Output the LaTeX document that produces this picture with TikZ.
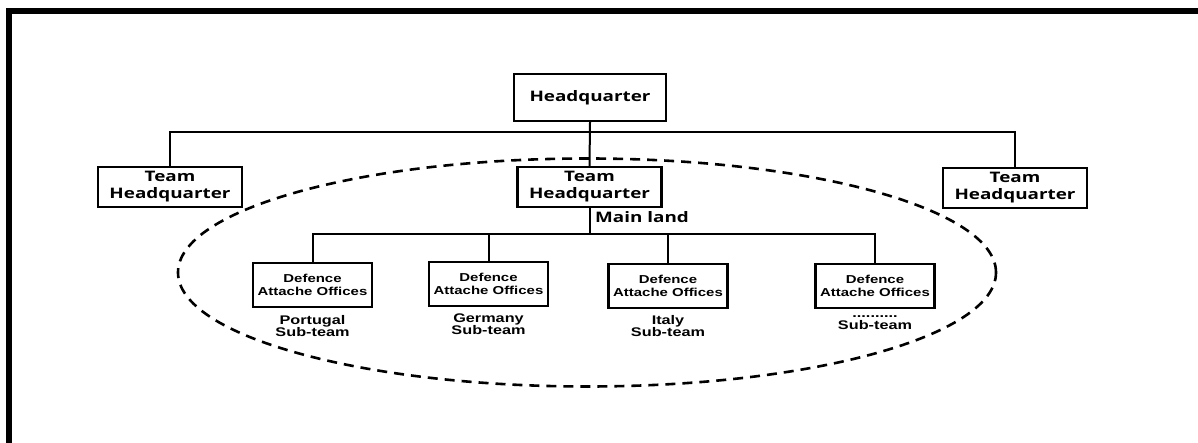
\documentclass[tikz,border=0pt]{standalone}
\usepackage{fontspec}
\newfontfamily\hqfont{Open Sans}[FakeStretch=1.3]
\newfontfamily\subfont{Liberation Sans}[FakeStretch=1.3]
\usetikzlibrary{shapes.geometric}
\begin{document}
\begin{tikzpicture}[x=1pt,y=-1pt,
  hqtext/.style={font=\hqfont\bfseries\fontsize{14.5}{17}\selectfont, align=center},
  subtext/.style={font=\subfont\bfseries\fontsize{11.5}{13}\selectfont, align=center},
  hqbox/.style={draw, line width=2.4pt, hqtext, inner sep=0pt, minimum width=152pt, minimum height=47pt},
  teambox/.style={draw, line width=2.4pt, hqtext, inner sep=0pt, minimum width=144pt, minimum height=40pt},
  officebox/.style={draw, line width=2.4pt, subtext, inner sep=0pt, minimum width=119pt, minimum height=44pt},
  sublabel/.style={subtext, inner sep=0pt, font=\subfont\bfseries\fontsize{12.5}{12.5}\selectfont},
  link/.style={line width=2pt},
  group/.style={draw, ellipse, line width=2.6pt, dash pattern=on 10pt off 7pt, inner sep=0pt}
]
\useasboundingbox (0,0) rectangle (1198,443);
% outer frame (top and left edges)
\draw[line width=6pt, line join=miter] (9,443) -- (9,11) -- (1198,11);

% grouping ellipse round the main-land team
\node[group, minimum width=818pt, minimum height=228pt] (mainland) at (587,272.5) {};

% top level
\node[hqbox] (hq) at (590,97.5) {Headquarter};

% team headquarters
\node[teambox] (thL) at (170,187) {Team\\Headquarter};
\node[teambox] (thC) at (589.5,187) {Team\\Headquarter};
\node[teambox] (thR) at (1015,188) {Team\\Headquarter};

\coordinate (bus1) at (590,132);
\draw[link] (hq.south) -- (thC.north);
\draw[link] (thL.north) |- (bus1) -| (thR.north);

\node[hqtext, anchor=west, inner sep=0pt] (ml) at (595,217) {Main land};

% defence attache offices
\node[officebox] (d1) at (312.5,285) {Defence\\Attache Offices};
\node[officebox] (d2) at (488.5,284) {Defence\\Attache Offices};
\node[officebox] (d3) at (668,286) {Defence\\Attache Offices};
\node[officebox] (d4) at (875,286) {Defence\\Attache Offices};

\coordinate (bus2) at (589.5,234);
\draw[link] (thC.south) -- (bus2);
\draw[link] (d1.north) |- (bus2) -| (d4.north);
\draw[link] (d2.north) -- (d2.north |- bus2);
\draw[link] (d3.north) -- (d3.north |- bus2);

% sub-team labels
\node[sublabel, anchor=north] (l1) at ([yshift=-7pt]d1.south) {Portugal\\Sub-team};
\node[sublabel, anchor=north] (l2) at ([yshift=-6pt]d2.south) {Germany\\Sub-team};
\node[sublabel, anchor=north] (l3) at ([yshift=-6pt]d3.south) {Italy\\Sub-team};
\node[sublabel, anchor=north] (l4) at ([yshift=-6pt]d4.south) {..........\\Sub-team};
\end{tikzpicture}
\end{document}
